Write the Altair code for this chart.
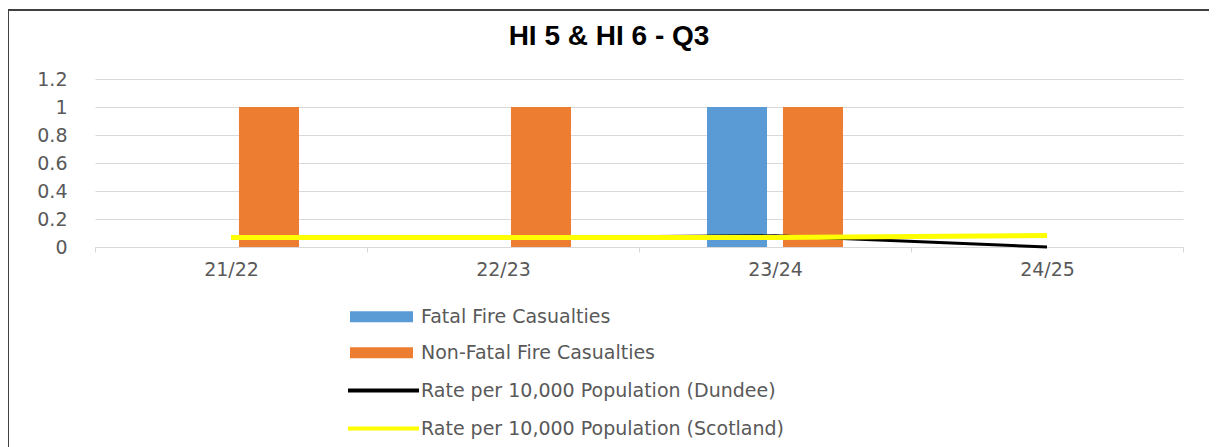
import altair as alt
import pandas as pd

categories = ["21/22", "22/23", "23/24", "24/25"]
fatal = [0, 0, 1, 0]
non_fatal = [1, 1, 1, 0]
dundee_rate = [0.068, 0.068, 0.08, 0.0]
scotland_rate = [0.068, 0.068, 0.067, 0.082]
bar_series = ["Fatal Fire Casualties", "Non-Fatal Fire Casualties"]
line_series = ["Rate per 10,000 Population (Dundee)", "Rate per 10,000 Population (Scotland)"]
y_ticks = [0, 0.2, 0.4, 0.6, 0.8, 1.0, 1.2]
title_text = "HI 5 & HI 6 - Q3"

bars_df = pd.DataFrame({
    "year": categories * 2,
    "series": [bar_series[0]] * len(categories) + [bar_series[1]] * len(categories),
    "value": fatal + non_fatal,
})
lines_df = pd.DataFrame({
    "year": categories * 2,
    "series": [line_series[0]] * len(categories) + [line_series[1]] * len(categories),
    "value": dundee_rate + scotland_rate,
})

W, H = 1088, 168
FONT = "DejaVu Sans"
GREY = "#595959"
GRID = "#d9d9d9"

x_enc = alt.X(
    "year:N",
    sort=categories,
    scale=alt.Scale(domain=categories, paddingInner=0, paddingOuter=0),
    axis=alt.Axis(
        title=None, labelAngle=0, tickBand="extent", grid=False,
        domainColor=GRID, tickColor=GRID, tickSize=5, labelPadding=8,
        labelFont=FONT, labelFontSize=19, labelColor=GREY,
    ),
)
y_enc = alt.Y(
    "value:Q",
    scale=alt.Scale(domain=[0, 1.2], nice=False),
    axis=alt.Axis(
        title=None, values=y_ticks, format="~g", domain=False, ticks=False,
        gridColor=GRID, labelPadding=28, labelFont=FONT, labelFontSize=19,
        labelColor=GREY,
    ),
)

border_top = alt.Chart(pd.DataFrame({"a": [0]})).mark_rule(
    stroke="#404040", strokeWidth=2
).encode(x=alt.value(-88), x2=alt.value(1250), y=alt.value(-69))
border_left = alt.Chart(pd.DataFrame({"a": [0]})).mark_rule(
    stroke="#404040", strokeWidth=2
).encode(x=alt.value(-87), y=alt.value(-70), y2=alt.value(500))

bars = alt.Chart(bars_df).mark_bar().encode(
    x=x_enc,
    y=y_enc,
    xOffset=alt.XOffset(
        "series:N", sort=bar_series,
        scale=alt.Scale(domain=bar_series, paddingInner=0.21, paddingOuter=0.895),
    ),
    color=alt.Color(
        "series:N",
        scale=alt.Scale(domain=bar_series, range=["#5B9BD5", "#ED7D31"]),
        legend=alt.Legend(
            title=None, orient="none", legendX=255, legendY=220,
            symbolType="M-1,-0.175H1V0.175H-1Z", symbolSize=3969,
            symbolStrokeWidth=0, symbolOpacity=1,
            labelFont=FONT, labelFontSize=19, labelColor=GREY, labelLimit=0,
            labelOffset=8, clipHeight=35.5, rowPadding=0, padding=0,
        ),
    ),
)

lines = alt.Chart(lines_df).mark_line().encode(
    x=x_enc,
    y=y_enc,
    stroke=alt.Stroke(
        "series:N",
        scale=alt.Scale(domain=line_series, range=["#000000", "#FFFF00"]),
        legend=alt.Legend(
            title=None, orient="none", legendX=251, legendY=292.5,
            symbolType="stroke", symbolSize=5041, symbolStrokeWidth=4,
            labelFont=FONT, labelFontSize=19, labelColor=GREY, labelLimit=0,
            labelOffset=0, clipHeight=38, rowPadding=0, padding=0,
        ),
    ),
    strokeWidth=alt.StrokeWidth(
        "series:N", scale=alt.Scale(domain=line_series, range=[3, 5]), legend=None
    ),
)

title = alt.Chart(pd.DataFrame({"t": [title_text]})).mark_text(
    font="Liberation Sans", fontSize=28, fontWeight="bold", align="center",
    baseline="alphabetic", color="#000000",
).encode(text="t:N", x=alt.value(514), y=alt.value(-34))

chart = alt.layer(border_top, border_left, bars, lines, title).properties(
    width=W, height=H,
    autosize=alt.AutoSizeParams(type="none"),
    padding={"left": 87, "top": 71, "right": 26, "bottom": 200},
).resolve_scale(color="independent", stroke="independent").configure_view(strokeWidth=0)

chart.save("out.html", embed_options={"renderer": "svg", "actions": False})
